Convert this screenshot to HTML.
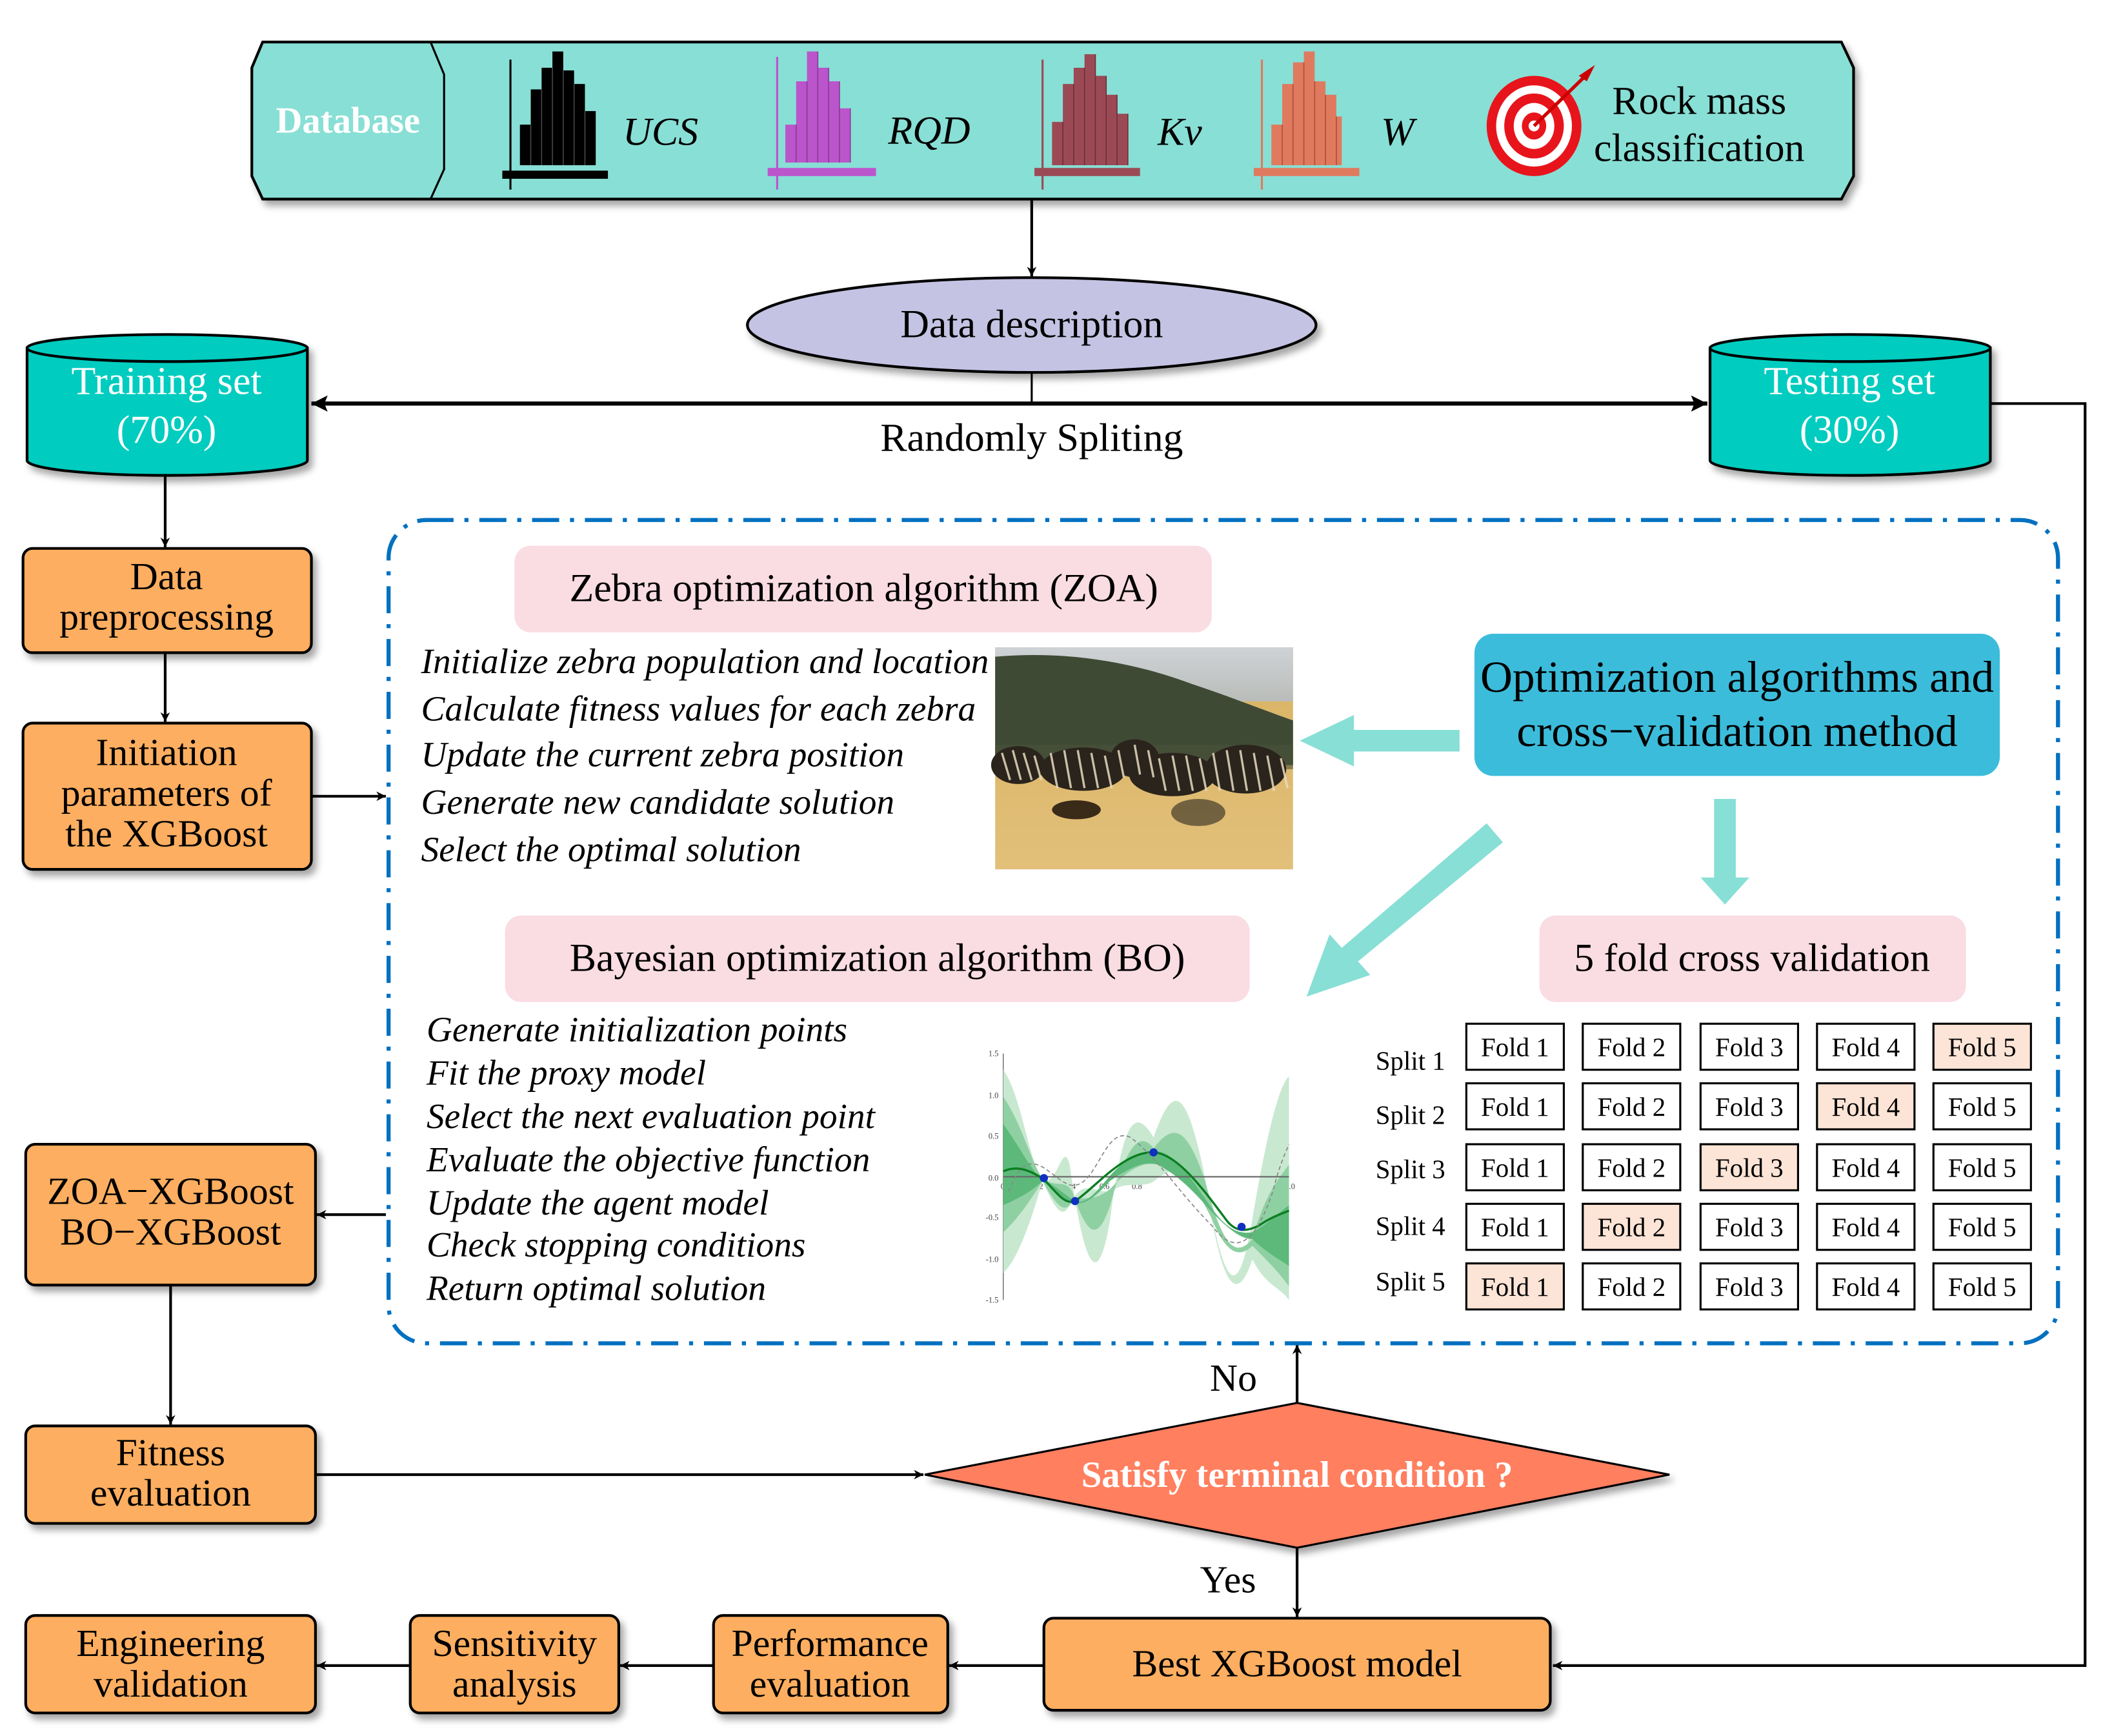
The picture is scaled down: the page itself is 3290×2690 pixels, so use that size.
<!DOCTYPE html>
<html><head><meta charset="utf-8"><style>
html,body{margin:0;padding:0;background:#fff}
svg{display:block}
text{font-family:"Liberation Serif",serif}
</style></head><body>
<svg width="3290" height="2690" viewBox="0 0 1568 1282" xmlns="http://www.w3.org/2000/svg">
<defs>
<filter id="sh" x="-10%" y="-10%" width="130%" height="140%"><feDropShadow dx="3" dy="4" stdDeviation="2.5" flood-color="#000" flood-opacity="0.35"/></filter>
<marker id="ar" viewBox="0 0 10 10" refX="10" refY="5" markerWidth="7" markerHeight="7" orient="auto-start-reverse" markerUnits="userSpaceOnUse"><path d="M0,0L10,5L0,10L3,5z" fill="#000"/></marker>
<marker id="ar2" viewBox="0 0 10 10" refX="10" refY="5" markerWidth="12" markerHeight="14" orient="auto-start-reverse" markerUnits="userSpaceOnUse"><path d="M0,0L10,5L0,10L2,5z" fill="#000"/></marker>
<linearGradient id="sky" x1="0" y1="0" x2="0" y2="1"><stop offset="0" stop-color="#cfd3d6"/><stop offset="1" stop-color="#b9bcb8"/></linearGradient>
<linearGradient id="grass" x1="0" y1="0" x2="0" y2="1"><stop offset="0" stop-color="#d9b262"/><stop offset="1" stop-color="#e2c07a"/></linearGradient>
</defs>

<g filter="url(#sh)">
<path d="M194,31 L1360,31 L1369,50 L1369,130 L1360,147 L194,147 L186,130 L186,50 Z" fill="#88DFD5" stroke="#000" stroke-width="2"/>
<path d="M318,31 L328,55 L328,125 L318,147" fill="none" stroke="#000" stroke-width="1.5"/>
</g>
<text x="257" y="98" font-size="27" font-weight="bold" fill="#fff" text-anchor="middle">Database</text>
<g>
<line x1="377" y1="44" x2="377" y2="140" stroke="#000" stroke-width="1.5"/>
<rect x="371" y="126" width="78" height="6" fill="#000"/>
<path d="M384,122V92h8V66h8V50h8V38h8V52h8V62h8V82h8V122z" fill="#000"/>
<path d="M392,92V122M400,66V122M408,50V122M416,52V122M424,62V122M432,82V122" stroke="#444" stroke-width="0.8"/>
<text x="460" y="107" font-size="29.5" font-style="italic">UCS</text>

<line x1="574" y1="42" x2="574" y2="140" stroke="#bb55cc" stroke-width="1.5"/>
<rect x="567" y="124" width="80" height="6" fill="#bb55cc"/>
<path d="M580,120V92h8V60h8V38h8V50h8V60h8V80h8V120z" fill="#bb55cc"/>
<path d="M588,92V120M596,60V120M604,38V120M612,50V120M620,60V120M628,80V120" stroke="#8a3a99" stroke-width="0.8"/>
<text x="656" y="106" font-size="29.5" font-style="italic">RQD</text>

<line x1="770" y1="44" x2="770" y2="140" stroke="#9b4a55" stroke-width="1.5"/>
<rect x="764" y="124" width="78" height="6" fill="#9b4a55"/>
<path d="M777,122V90h8V62h8V50h8V40h8V56h8V70h8V84h8V122z" fill="#9b4a55"/>
<path d="M785,90V122M793,62V122M801,50V122M809,40V122M817,56V122M825,70V122M833,84V122" stroke="#6e2f38" stroke-width="0.8"/>
<text x="855" y="107" font-size="29.5" font-style="italic">Kv</text>

<line x1="932" y1="44" x2="932" y2="140" stroke="#e07a5f" stroke-width="1.5"/>
<rect x="926" y="124" width="78" height="6" fill="#e07a5f"/>
<path d="M939,122V92h8V62h8V46h8V38h8V60h8V70h8V86h4V122z" fill="#e07a5f"/>
<path d="M947,92V122M955,62V122M963,46V122M971,60V122M979,70V122M987,86V122" stroke="#b0503a" stroke-width="0.8"/>
<text x="1020" y="107" font-size="29.5" font-style="italic">W</text>
</g>
<g>
<ellipse cx="1133" cy="93" rx="35" ry="37" fill="#e8141c"/>
<ellipse cx="1133" cy="93" rx="28" ry="30" fill="#fff"/>
<ellipse cx="1133" cy="93" rx="22" ry="24" fill="#e8141c"/>
<ellipse cx="1133" cy="93" rx="15" ry="17" fill="#fff"/>
<ellipse cx="1133" cy="93" rx="9" ry="10" fill="#e8141c"/>
<ellipse cx="1133" cy="93" rx="4" ry="4" fill="#fff"/>
<line x1="1133" y1="93" x2="1172" y2="55" stroke="#c00" stroke-width="2.5"/>
<path d="M1166,56L1178,48L1172,60Z" fill="#c00"/>
</g>
<text x="1255" y="84" font-size="29.5" text-anchor="middle">Rock mass</text>
<text x="1255" y="119" font-size="29.5" text-anchor="middle">classification</text>

<line x1="762" y1="148" x2="762" y2="204" stroke="#000" stroke-width="2" marker-end="url(#ar)"/>
<ellipse cx="762" cy="240" rx="210" ry="35" fill="#C4C3E3" stroke="#000" stroke-width="2" filter="url(#sh)"/>
<text x="762" y="249" font-size="29.5" text-anchor="middle">Data description</text>
<line x1="762" y1="275" x2="762" y2="298" stroke="#000" stroke-width="1.5"/>
<line x1="230" y1="298" x2="1261" y2="298" stroke="#000" stroke-width="3" marker-start="url(#ar2)" marker-end="url(#ar2)"/>
<text x="762" y="333" font-size="29.5" text-anchor="middle">Randomly Spliting</text>

<g filter="url(#sh)">
<path d="M20,257 L20,340 A103,11 0 0 0 227,340 L227,257 Z" fill="#00CCBF" stroke="#000" stroke-width="2"/>
<ellipse cx="123.5" cy="257" rx="103.5" ry="10" fill="#00CCBF" stroke="#000" stroke-width="2"/>
<path d="M1263,257 L1263,340 A103,11 0 0 0 1470,340 L1470,257 Z" fill="#00CCBF" stroke="#000" stroke-width="2"/>
<ellipse cx="1366.5" cy="257" rx="103.5" ry="10" fill="#00CCBF" stroke="#000" stroke-width="2"/>
</g>
<text x="123" y="291" font-size="29.5" fill="#fff" text-anchor="middle">Training set</text>
<text x="123" y="327" font-size="29.5" fill="#fff" text-anchor="middle">(70%)</text>
<text x="1366" y="291" font-size="29.5" fill="#fff" text-anchor="middle">Testing set</text>
<text x="1366" y="327" font-size="29.5" fill="#fff" text-anchor="middle">(30%)</text>

<polyline points="1470,298 1540,298 1540,1230 1147,1230" fill="none" stroke="#000" stroke-width="2" marker-end="url(#ar)"/>

<line x1="122" y1="350" x2="122" y2="404" stroke="#000" stroke-width="2" marker-end="url(#ar)"/>
<g filter="url(#sh)" fill="#FDAE61" stroke="#000" stroke-width="2">
<rect x="17" y="405" width="213" height="77" rx="7"/>
<rect x="17" y="534" width="213" height="108" rx="7"/>
<rect x="19" y="845" width="214" height="104" rx="7"/>
<rect x="19" y="1053" width="214" height="72" rx="7"/>
<rect x="19" y="1193" width="214" height="72" rx="7"/>
<rect x="303" y="1193" width="154" height="72" rx="7"/>
<rect x="527" y="1193" width="173" height="72" rx="7"/>
<rect x="771" y="1195" width="374" height="68" rx="7"/>
</g>
<g font-size="28.5" text-anchor="middle">
<text x="123" y="435">Data</text>
<text x="123" y="465">preprocessing</text>
<text x="123" y="565">Initiation</text>
<text x="123" y="595">parameters of</text>
<text x="123" y="625">the XGBoost</text>
<text x="126" y="889">ZOA−XGBoost</text>
<text x="126" y="919">BO−XGBoost</text>
<text x="126" y="1082">Fitness</text>
<text x="126" y="1112">evaluation</text>
<text x="126" y="1223">Engineering</text>
<text x="126" y="1253">validation</text>
<text x="380" y="1223">Sensitivity</text>
<text x="380" y="1253">analysis</text>
<text x="613" y="1223">Performance</text>
<text x="613" y="1253">evaluation</text>
<text x="958" y="1238">Best XGBoost model</text>
<text x="911" y="1027">No</text>
<text x="907" y="1176">Yes</text>
</g>
<line x1="122" y1="482" x2="122" y2="533" stroke="#000" stroke-width="2" marker-end="url(#ar)"/>
<line x1="230" y1="588" x2="285" y2="588" stroke="#000" stroke-width="2" marker-end="url(#ar)"/>
<line x1="285" y1="897" x2="234" y2="897" stroke="#000" stroke-width="2" marker-end="url(#ar)"/>
<line x1="126" y1="949" x2="126" y2="1052" stroke="#000" stroke-width="2" marker-end="url(#ar)"/>
<line x1="233" y1="1089" x2="682" y2="1089" stroke="#000" stroke-width="2" marker-end="url(#ar)"/>
<line x1="771" y1="1230" x2="701" y2="1230" stroke="#000" stroke-width="2" marker-end="url(#ar)"/>
<line x1="527" y1="1230" x2="458" y2="1230" stroke="#000" stroke-width="2" marker-end="url(#ar)"/>
<line x1="303" y1="1230" x2="234" y2="1230" stroke="#000" stroke-width="2" marker-end="url(#ar)"/>

<path d="M683,1089 L958,1036 L1233,1089 L958,1143 Z" fill="#FF7F5E" stroke="#000" stroke-width="1.5" filter="url(#sh)"/>
<text x="958" y="1098" font-size="27" font-weight="bold" fill="#fff" text-anchor="middle">Satisfy terminal condition ?</text>
<line x1="958" y1="1036" x2="958" y2="993" stroke="#000" stroke-width="2" marker-end="url(#ar)"/>
<line x1="958" y1="1143" x2="958" y2="1194" stroke="#000" stroke-width="2" marker-end="url(#ar)"/>

<rect x="287" y="384" width="1233" height="608" rx="28" fill="none" stroke="#0070C0" stroke-width="3" stroke-dasharray="20,8,3,8"/>

<g fill="#FADCE3">
<rect x="380" y="403" width="515" height="64" rx="12"/>
<rect x="373" y="676" width="550" height="64" rx="12"/>
<rect x="1137" y="676" width="315" height="64" rx="12"/>
</g>
<text x="638" y="444" font-size="29.5" text-anchor="middle">Zebra optimization algorithm (ZOA)</text>
<text x="648" y="717" font-size="29.5" text-anchor="middle">Bayesian optimization algorithm (BO)</text>
<text x="1294" y="717" font-size="29.5" text-anchor="middle">5 fold cross validation</text>

<g font-size="26.4" font-style="italic">
<text x="311" y="497">Initialize zebra population and location</text>
<text x="311" y="532">Calculate fitness values for each zebra</text>
<text x="311" y="566">Update the current zebra position</text>
<text x="311" y="601">Generate new candidate solution</text>
<text x="311" y="636">Select the optimal solution</text>
<text x="315" y="769">Generate initialization points</text>
<text x="315" y="801">Fit the proxy model</text>
<text x="315" y="833">Select the next evaluation point</text>
<text x="315" y="865">Evaluate the objective function</text>
<text x="315" y="897">Update the agent model</text>
<text x="315" y="928">Check stopping conditions</text>
<text x="315" y="960">Return optimal solution</text>
</g>

<g>
<rect x="735" y="478" width="220" height="164" fill="url(#grass)"/>
<rect x="735" y="478" width="220" height="40" fill="url(#sky)"/>
<path d="M735,485 C790,480 840,490 880,505 C910,515 935,525 955,532 L955,565 L735,565 Z" fill="#3f4a35"/>
<path d="M735,550 L955,550 L955,568 L735,568 Z" fill="#4a5238" opacity="0.6"/>
<g fill="#2a241c">
<ellipse cx="752" cy="565" rx="20" ry="14"/>
<ellipse cx="800" cy="568" rx="32" ry="16"/>
<ellipse cx="838" cy="560" rx="18" ry="14"/>
<ellipse cx="866" cy="572" rx="32" ry="16"/>
<ellipse cx="920" cy="568" rx="30" ry="18"/>
<ellipse cx="885" cy="600" rx="20" ry="10" opacity="0.6"/>
</g>
<g stroke="#e8dcc0" stroke-width="1.6" opacity="0.85">
<path d="M740,556l6,20M748,554l6,22M756,556l6,20M764,558l5,18M776,556l5,26M786,554l5,28M796,554l5,28M806,556l5,26M816,558l5,24M826,554l4,20M838,550l4,22M848,554l4,20M856,560l5,24M866,558l5,26M876,558l5,26M886,560l5,24M896,556l5,28M906,554l5,30M916,554l5,30M926,556l5,28M936,558l5,26M946,560l5,22"/>
</g>
<ellipse cx="795" cy="598" rx="18" ry="7" fill="#3a2a18"/>
</g>

<g>
<line x1="741" y1="778" x2="741" y2="960" stroke="#555" stroke-width="0.6"/>
<g font-size="6" fill="#444" font-family="Liberation Sans,sans-serif">
<text x="730" y="780">1.5</text><text x="730" y="811">1.0</text><text x="730" y="841">0.5</text><text x="730" y="872">0.0</text><text x="728" y="901">-0.5</text><text x="728" y="932">-1.0</text><text x="728" y="962">-1.5</text>
<text x="739" y="878">0.0</text><text x="763" y="878">0.2</text><text x="787" y="878">0.4</text><text x="812" y="878">0.6</text><text x="836" y="878">0.8</text><text x="949" y="878">1.0</text>
</g>
<path d="M741,790 C755,810 760,860 770,870 C780,880 785,840 790,860 C800,930 810,960 820,900 C830,820 840,820 852,840 C866,800 876,800 890,870 C905,960 915,960 925,900 C935,840 945,800 952,795 L952,960 C945,950 935,950 925,930 C915,960 905,955 895,900 C880,860 870,860 855,870 C845,880 835,870 820,880 C805,880 800,870 790,890 C785,900 780,895 770,872 C762,900 752,930 741,940 Z" fill="#c9e8d0"/>
<path d="M741,810 C755,830 762,860 770,870 C780,878 786,870 792,880 C802,910 810,920 820,890 C832,845 842,835 852,848 C866,830 876,830 890,872 C903,920 912,930 925,915 C935,880 945,870 952,860 L952,950 C945,940 935,930 925,920 C915,930 905,925 895,900 C880,870 870,862 855,860 C845,858 835,862 820,878 C805,890 800,880 790,890 C785,895 780,890 770,872 C762,885 752,900 741,910 Z" fill="#8fd0a2"/>
<path d="M741,830 C755,850 762,865 770,871 C780,876 786,882 794,887 C802,890 810,880 820,868 C832,855 842,850 852,850 C866,850 876,865 890,885 C903,905 912,912 925,910 C935,905 945,895 952,890 L952,935 C945,930 935,925 925,915 C915,915 905,905 895,895 C880,878 870,868 855,860 C845,857 835,862 820,872 C805,888 800,890 790,888 C785,886 780,880 770,872 C762,880 752,885 741,890 Z" fill="#5cb97a"/>
<line x1="741" y1="869" x2="952" y2="869" stroke="#666" stroke-width="1"/>
<path d="M741,865 C752,860 762,865 771,871 C780,880 786,890 794,887 C808,878 830,850 852,851 C870,852 890,880 905,900 C912,910 920,910 930,905 C940,898 948,896 952,894" fill="none" stroke="#0a7d20" stroke-width="1.6"/>
<path d="M745,880 C760,840 775,870 790,875 C810,880 815,830 835,840 C855,855 870,880 895,905 C910,925 925,925 940,880 C945,860 950,850 952,845" fill="none" stroke="#888" stroke-width="0.8" stroke-dasharray="3,2"/>
<g fill="#1030c0"><circle cx="771" cy="870" r="3"/><circle cx="794" cy="887" r="3"/><circle cx="852" cy="851" r="3"/><circle cx="917" cy="906" r="3"/></g>
</g>

<rect x="1089" y="468" width="388" height="105" rx="14" fill="#3CBCDB"/>
<text x="1283" y="511" font-size="33" text-anchor="middle">Optimization algorithms and</text>
<text x="1283" y="551" font-size="33" text-anchor="middle">cross−validation method</text>

<g fill="#88DFD5">
<path d="M1078,539 L1000,539 L1000,528 L960,547 L1000,566 L1000,555 L1078,555 Z"/>
<path d="M1266,590 L1282,590 L1282,648 L1292,648 L1274,668 L1256,648 L1266,648 Z"/>
<path d="M1098,608 L1110,622 L1003,710 L1012,720 L965,736 L982,690 L991,700 Z"/>
</g>

<g font-size="19.5">
<text x="1016" y="790">Split 1</text>
<text x="1016" y="830">Split 2</text>
<text x="1016" y="870">Split 3</text>
<text x="1016" y="912">Split 4</text>
<text x="1016" y="953">Split 5</text>
</g>
<g stroke="#000" stroke-width="1.5" fill="#fff">
<rect x="1083" y="756" width="72" height="34"/><rect x="1169" y="756" width="72" height="34"/><rect x="1256" y="756" width="72" height="34"/><rect x="1342" y="756" width="72" height="34"/><rect x="1428" y="756" width="72" height="34" fill="#FCE4D6"/>
<rect x="1083" y="800" width="72" height="34"/><rect x="1169" y="800" width="72" height="34"/><rect x="1256" y="800" width="72" height="34"/><rect x="1342" y="800" width="72" height="34" fill="#FCE4D6"/><rect x="1428" y="800" width="72" height="34"/>
<rect x="1083" y="845" width="72" height="34"/><rect x="1169" y="845" width="72" height="34"/><rect x="1256" y="845" width="72" height="34" fill="#FCE4D6"/><rect x="1342" y="845" width="72" height="34"/><rect x="1428" y="845" width="72" height="34"/>
<rect x="1083" y="889" width="72" height="34"/><rect x="1169" y="889" width="72" height="34" fill="#FCE4D6"/><rect x="1256" y="889" width="72" height="34"/><rect x="1342" y="889" width="72" height="34"/><rect x="1428" y="889" width="72" height="34"/>
<rect x="1083" y="933" width="72" height="34" fill="#FCE4D6"/><rect x="1169" y="933" width="72" height="34"/><rect x="1256" y="933" width="72" height="34"/><rect x="1342" y="933" width="72" height="34"/><rect x="1428" y="933" width="72" height="34"/>
</g>
<g font-size="19.5" text-anchor="middle">
<text x="1119" y="780">Fold 1</text><text x="1205" y="780">Fold 2</text><text x="1292" y="780">Fold 3</text><text x="1378" y="780">Fold 4</text><text x="1464" y="780">Fold 5</text>
<text x="1119" y="824">Fold 1</text><text x="1205" y="824">Fold 2</text><text x="1292" y="824">Fold 3</text><text x="1378" y="824">Fold 4</text><text x="1464" y="824">Fold 5</text>
<text x="1119" y="869">Fold 1</text><text x="1205" y="869">Fold 2</text><text x="1292" y="869">Fold 3</text><text x="1378" y="869">Fold 4</text><text x="1464" y="869">Fold 5</text>
<text x="1119" y="913">Fold 1</text><text x="1205" y="913">Fold 2</text><text x="1292" y="913">Fold 3</text><text x="1378" y="913">Fold 4</text><text x="1464" y="913">Fold 5</text>
<text x="1119" y="957">Fold 1</text><text x="1205" y="957">Fold 2</text><text x="1292" y="957">Fold 3</text><text x="1378" y="957">Fold 4</text><text x="1464" y="957">Fold 5</text>
</g>
</svg>
</body></html>
